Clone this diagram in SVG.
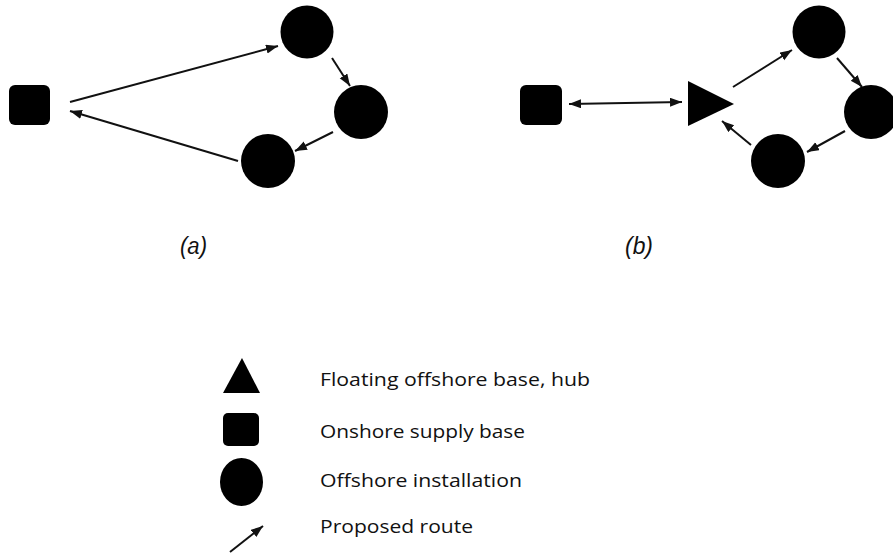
<svg xmlns="http://www.w3.org/2000/svg" width="893" height="555" viewBox="0 0 893 555">
<style>
.n{fill:#000}
.e{stroke:#111;stroke-width:2;fill:none;marker-end:url(#ah)}
.lbl{font-family:"Liberation Sans",Arial,sans-serif;font-style:italic;font-size:23px;fill:#111}
.leg{font-family:"Open Sans","Liberation Sans",sans-serif;font-size:18px;fill:#111}
</style>
<defs>
<marker id="ah" markerUnits="userSpaceOnUse" markerWidth="13" markerHeight="10" refX="12" refY="4.5" orient="auto-start-reverse">
<path d="M0,0 L12,4.5 L0,9 z" fill="#111"/>
</marker>
</defs>
<rect width="893" height="555" fill="#fff"/>
<g id="connectors">
<line class="e" x1="70" y1="102" x2="278" y2="46"/>
<line class="e" x1="332" y1="58" x2="350" y2="86"/>
<line class="e" x1="333" y1="132" x2="295" y2="151"/>
<line class="e" x1="238" y1="161" x2="70" y2="111"/>
<line class="e" x1="569" y1="104" x2="682" y2="102" style="marker-start:url(#ah)"/>
<line class="e" x1="733" y1="87" x2="792" y2="50"/>
<line class="e" x1="837" y1="58" x2="862" y2="87"/>
<line class="e" x1="845" y1="131" x2="807" y2="152"/>
<line class="e" x1="751" y1="145" x2="722" y2="121"/>
</g>
<g id="a-onshore"><rect class="n" x="9" y="85" width="41" height="40" rx="6"/></g>
<g id="a-inst1"><circle class="n" cx="307" cy="32" r="26.5"/></g>
<g id="a-inst2"><circle class="n" cx="361" cy="112" r="27"/></g>
<g id="a-inst3"><circle class="n" cx="268" cy="161" r="27"/></g>
<g id="b-onshore"><rect class="n" x="520" y="85" width="42" height="40" rx="6"/></g>
<g id="b-hub"><polygon class="n" points="688,81 688,126 734,104"/></g>
<g id="b-inst1"><circle class="n" cx="819" cy="32" r="26.5"/></g>
<g id="b-inst2"><circle class="n" cx="871" cy="112" r="27"/></g>
<g id="b-inst3"><circle class="n" cx="778" cy="161" r="27"/></g>
<g id="label-a"><text class="lbl" x="180" y="254" textLength="27" lengthAdjust="spacingAndGlyphs">(a)</text></g>
<g id="label-b"><text class="lbl" x="625" y="254" textLength="28" lengthAdjust="spacingAndGlyphs">(b)</text></g>
<g id="legend">
<polygon class="n" points="223,393 260,393 242,358"/>
<rect class="n" x="223" y="413" width="36" height="33" rx="5"/>
<ellipse class="n" cx="241.5" cy="482" rx="21.5" ry="24"/>
<line class="e" x1="230" y1="552" x2="263" y2="526"/>
<text class="leg" x="320" y="386" textLength="270" lengthAdjust="spacingAndGlyphs">Floating offshore base, hub</text>
<text class="leg" x="320" y="438" textLength="205" lengthAdjust="spacingAndGlyphs">Onshore supply base</text>
<text class="leg" x="320" y="487" textLength="202" lengthAdjust="spacingAndGlyphs">Offshore installation</text>
<text class="leg" x="320" y="533" textLength="153" lengthAdjust="spacingAndGlyphs">Proposed route</text>
</g>
</svg>
